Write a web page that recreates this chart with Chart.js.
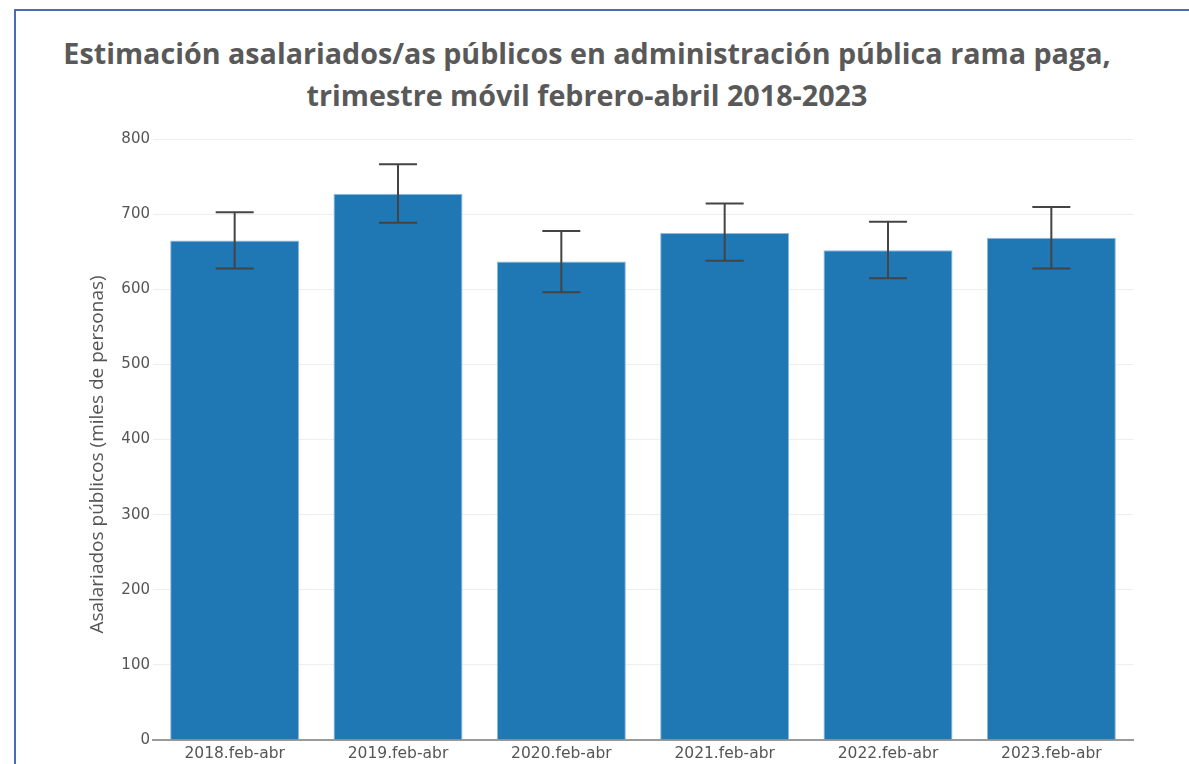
<!DOCTYPE html>
<html lang="es">
<head>
    <meta charset="UTF-8">
    <title>Asalariados públicos</title>
    <style>
        html, body {
            margin: 0;
            padding: 0;
            background: #ffffff;
            width: 1189px;
            height: 764px;
            overflow: hidden;
        }
        .frame {
            position: absolute;
            left: 14px;
            top: 9px;
            width: 1175px;
            height: 755px;
            border-left: 2px solid #4a6cb3;
            border-top: 2px solid #4a6cb3;
        }
        .title {
            position: absolute;
            left: 0;
            top: 32px;
            width: 1174px;
            text-align: center;
            font-family: "Open Sans", Lato, sans-serif;
            font-weight: bold;
            font-size: 28.7px;
            line-height: 42px;
            color: #595959;
        }
        #chart {
            position: absolute;
            left: 0;
            top: 0;
        }
    </style>
</head>
<body>
    <div class="frame"></div>
    <div class="title">Estimación asalariados/as públicos en administración pública rama paga,<br>trimestre móvil febrero-abril 2018-2023</div>
    <canvas id="chart" width="1189" height="764"></canvas>

    <script src="https://cdn.jsdelivr.net/npm/chart.js"></script>
    <script>
        // valores (miles de personas)
        const periodos = ['2018.feb-abr', '2019.feb-abr', '2020.feb-abr', '2021.feb-abr', '2022.feb-abr', '2023.feb-abr'];
        const estimacion = [665, 727, 637, 675, 652, 668.5];
        const limiteSuperior = [702.5, 766.5, 677.5, 714, 690, 709.5];
        const limiteInferior = [627.5, 688.5, 596, 638, 614.5, 627.5];
        const ticksY = [0, 100, 200, 300, 400, 500, 600, 700, 800];
        const tituloY = 'Asalariados públicos (miles de personas)';

        // barras de error (intervalo de confianza)
        const errorBars = {
            id: 'errorBars',
            afterDatasetsDraw(chart) {
                const ctx = chart.ctx;
                const y = chart.scales.y;
                const meta = chart.getDatasetMeta(0);
                ctx.save();
                ctx.strokeStyle = '#444444';
                ctx.lineWidth = 2;
                meta.data.forEach((bar, i) => {
                    const x = bar.x;
                    const yHi = y.getPixelForValue(limiteSuperior[i]);
                    const yLo = y.getPixelForValue(limiteInferior[i]);
                    const w = 19;
                    ctx.beginPath();
                    ctx.moveTo(x, yHi);
                    ctx.lineTo(x, yLo);
                    ctx.moveTo(x - w, yHi);
                    ctx.lineTo(x + w, yHi);
                    ctx.moveTo(x - w, yLo);
                    ctx.lineTo(x + w, yLo);
                    ctx.stroke();
                });
                ctx.restore();
            }
        };

        // título del eje Y (un poco bajo el centro, como en el original)
        const yTitle = {
            id: 'yTitle',
            afterDraw(chart) {
                const ctx = chart.ctx;
                const area = chart.chartArea;
                ctx.save();
                ctx.translate(98, (area.top + area.bottom) / 2 + 15);
                ctx.rotate(-Math.PI / 2);
                ctx.fillStyle = '#555555';
                ctx.font = '19px "Open Sans"';
                ctx.textAlign = 'center';
                ctx.textBaseline = 'middle';
                ctx.fillText(tituloY, 0, 0);
                ctx.restore();
            }
        };

        new Chart(document.getElementById('chart'), {
            type: 'bar',
            data: {
                labels: periodos,
                datasets: [{
                    data: estimacion,
                    backgroundColor: '#1f77b4',
                    borderColor: '#8fbbe0',
                    borderWidth: 1,
                    barPercentage: 0.79,
                    categoryPercentage: 1
                }]
            },
            options: {
                responsive: false,
                animation: false,
                devicePixelRatio: 1,
                layout: {
                    padding: { top: 139, left: 80, right: 56, bottom: 0 }
                },
                plugins: {
                    legend: { display: false },
                    tooltip: { enabled: false }
                },
                scales: {
                    x: {
                        grid: { display: false, drawTicks: false },
                        border: { display: true, color: '#9a9a9a', width: 2 },
                        ticks: {
                            padding: 5,
                            color: '#555555',
                            font: { family: 'DejaVu Sans', size: 15.5 }
                        },
                        afterFit(scale) { scale.height = 24; }
                    },
                    y: {
                        min: 0,
                        max: 800,
                        afterBuildTicks(scale) {
                            scale.ticks = ticksY.map(v => ({ value: v }));
                        },
                        grid: { color: '#eeeeee', lineWidth: 1, drawTicks: false },
                        border: { display: false },
                        ticks: {
                            padding: 3,
                            color: '#555555',
                            font: { family: 'DejaVu Sans', size: 15 }
                        },
                        afterFit(scale) { scale.width = 73; }
                    }
                }
            },
            plugins: [errorBars, yTitle]
        });
    </script>
</body>
</html>
